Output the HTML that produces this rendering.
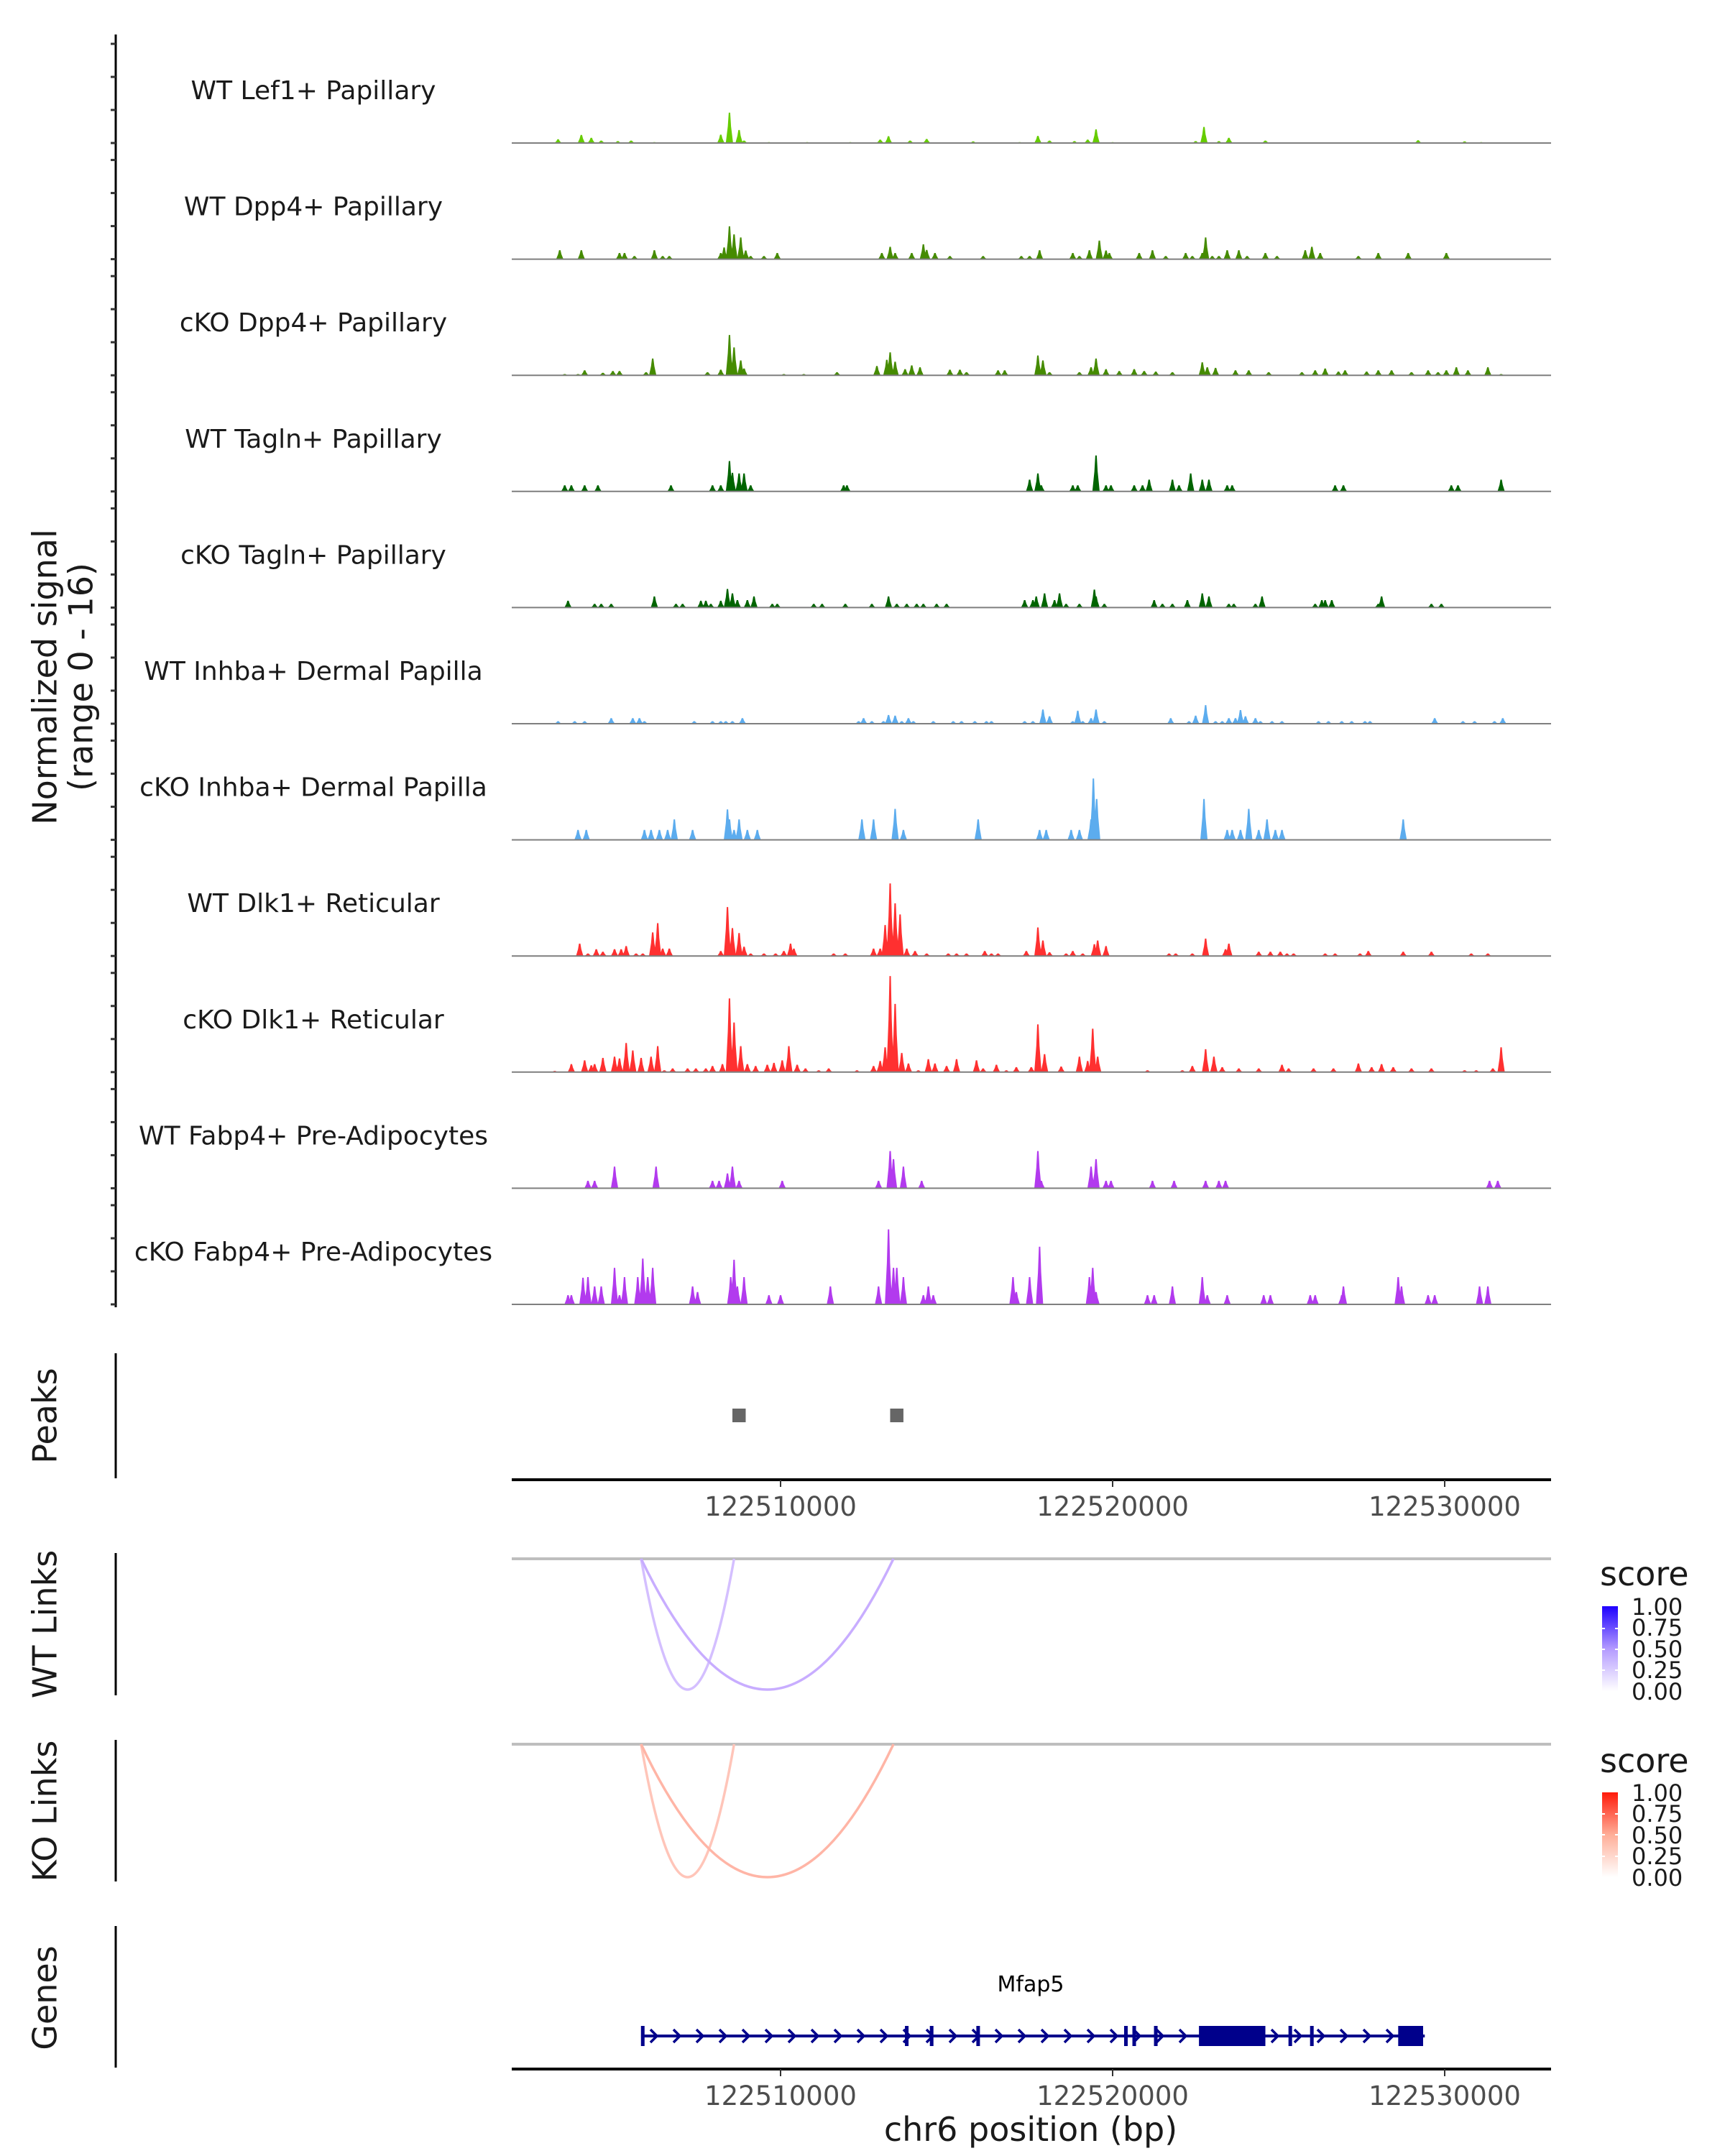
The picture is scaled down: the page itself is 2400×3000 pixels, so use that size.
<!DOCTYPE html>
<html><head><meta charset="utf-8">
<style>
html,body{margin:0;padding:0;background:#fff;}
svg{display:block;font-family:"DejaVu Sans","Liberation Sans",sans-serif;}
</style></head>
<body>
<svg id="chart" xmlns="http://www.w3.org/2000/svg" width="2400" height="3000" viewBox="0 0 2400 3000">
<rect x="0" y="0" width="2400" height="3000" fill="#ffffff"/>
<g id="tracks"></g>
<g id="leftaxis"></g>
<text transform="translate(66,942) rotate(-90)" text-anchor="middle" dominant-baseline="middle" font-size="46" fill="#1a1a1a">Normalized signal</text>
<text transform="translate(116,942) rotate(-90)" text-anchor="middle" dominant-baseline="middle" font-size="46" fill="#1a1a1a">(range 0 - 16)</text>

<g>
  <line x1="161" y1="1883" x2="161" y2="2057" stroke="#000" stroke-width="3"/>
  <text transform="translate(66,1970) rotate(-90)" text-anchor="middle" dominant-baseline="middle" font-size="46" fill="#1a1a1a">Peaks</text>
  <g id="peaks"></g>
</g>
<g id="xaxis1"></g>

<g>
  <line x1="161" y1="2161" x2="161" y2="2359" stroke="#000" stroke-width="3"/>
  <text transform="translate(66,2260) rotate(-90)" text-anchor="middle" dominant-baseline="middle" font-size="46" fill="#1a1a1a">WT Links</text>
  <line x1="712" y1="2169" x2="2158" y2="2169" stroke="#bebebe" stroke-width="4"/>
  <g id="wtlinks"></g>
</g>
<g>
  <line x1="161" y1="2421" x2="161" y2="2618" stroke="#000" stroke-width="3"/>
  <text transform="translate(66,2520) rotate(-90)" text-anchor="middle" dominant-baseline="middle" font-size="46" fill="#1a1a1a">KO Links</text>
  <line x1="712" y1="2427" x2="2158" y2="2427" stroke="#bebebe" stroke-width="4"/>
  <g id="kolinks"></g>
</g>

<defs>
  <linearGradient id="gradBlue" x1="0" y1="1" x2="0" y2="0">
    <stop offset="0" stop-color="#ffffff"/><stop offset="0.5" stop-color="#b39aff"/><stop offset="1" stop-color="#1e00ff"/>
  </linearGradient>
  <linearGradient id="gradRed" x1="0" y1="1" x2="0" y2="0">
    <stop offset="0" stop-color="#ffffff"/><stop offset="0.5" stop-color="#ffae98"/><stop offset="1" stop-color="#ff1a0a"/>
  </linearGradient>
</defs>
<g>
  <text x="2226" y="2206" font-size="46" fill="#1a1a1a">score</text>
  <rect x="2229" y="2235" width="22" height="118" fill="url(#gradBlue)"/>
  <g font-size="32" fill="#1a1a1a">
    <text x="2270" y="2247">1.00</text><text x="2270" y="2276">0.75</text><text x="2270" y="2306">0.50</text><text x="2270" y="2335">0.25</text><text x="2270" y="2365">0.00</text>
  </g>
  <g stroke="#fff" stroke-width="2"><line x1="2229" y1="2266" x2="2233" y2="2266"/><line x1="2247" y1="2266" x2="2251" y2="2266"/><line x1="2229" y1="2295" x2="2233" y2="2295"/><line x1="2247" y1="2295" x2="2251" y2="2295"/><line x1="2229" y1="2324" x2="2233" y2="2324"/><line x1="2247" y1="2324" x2="2251" y2="2324"/></g>
</g>
<g>
  <text x="2226" y="2466" font-size="46" fill="#1a1a1a">score</text>
  <rect x="2229" y="2494" width="22" height="118" fill="url(#gradRed)"/>
  <g font-size="32" fill="#1a1a1a">
    <text x="2270" y="2506">1.00</text><text x="2270" y="2535">0.75</text><text x="2270" y="2565">0.50</text><text x="2270" y="2594">0.25</text><text x="2270" y="2624">0.00</text>
  </g>
  <g stroke="#fff" stroke-width="2"><line x1="2229" y1="2524" x2="2233" y2="2524"/><line x1="2247" y1="2524" x2="2251" y2="2524"/><line x1="2229" y1="2553" x2="2233" y2="2553"/><line x1="2247" y1="2553" x2="2251" y2="2553"/><line x1="2229" y1="2583" x2="2233" y2="2583"/><line x1="2247" y1="2583" x2="2251" y2="2583"/></g>
</g>

<g>
  <line x1="161" y1="2680" x2="161" y2="2877" stroke="#000" stroke-width="3"/>
  <text transform="translate(66,2780) rotate(-90)" text-anchor="middle" dominant-baseline="middle" font-size="46" fill="#1a1a1a">Genes</text>
  <g id="gene"></g>
</g>
<g id="xaxis2"></g>
<text x="1434" y="2979" text-anchor="middle" font-size="46" fill="#1a1a1a">chr6 position (bp)</text>
</svg>

<script>
// ---- data (positions in kb offset from chr6:122,500,000; values in normalized signal 0-16) ----
const trackNames = ["WT Lef1+ Papillary","WT Dpp4+ Papillary","cKO Dpp4+ Papillary","WT Tagln+ Papillary","cKO Tagln+ Papillary","WT Inhba+ Dermal Papilla","cKO Inhba+ Dermal Papilla","WT Dlk1+ Reticular","cKO Dlk1+ Reticular","WT Fabp4+ Pre-Adipocytes","cKO Fabp4+ Pre-Adipocytes"];
const trackColors = ["#66cc00","#458b00","#458b00","#006400","#006400","#5cacee","#5cacee","#ff3030","#ff3030","#b23aee","#b23aee"];
const wtLef1 = [[3.3,0.6],[4.0,1.3],[4.3,0.85],[4.6,0.4],[5.1,0.3],[5.5,0.4],[6.2,0.15],[7.8,0.12],[8.2,1.35],[8.46,4.9],[8.75,2.1],[8.9,0.4],[9.65,0.15],[10.8,0.15],[12.1,0.15],[13.0,0.55],[13.25,1.1],[13.9,0.4],[14.4,0.65],[15.8,0.27],[17.2,0.15],[17.75,1.15],[18.1,0.4],[18.85,0.3],[19.25,0.55],[19.5,2.2],[20.0,0.15],[22.5,0.3],[22.75,2.6],[23.2,0.3],[23.5,0.85],[24.6,0.4],[25.9,0.12],[29.2,0.45],[30.6,0.27],[31.1,0.15]];
const wtDpp4 = [[3.35,1.45],[4.0,1.45],[5.15,1.0],[5.3,1.0],[5.6,0.5],[6.2,1.45],[6.45,0.5],[6.65,0.5],[8.2,1.0],[8.3,1.9],[8.46,5.3],[8.6,4.0],[8.8,3.5],[8.95,1.4],[9.1,0.5],[9.5,0.5],[9.9,1.0],[13.05,1.0],[13.3,2.0],[13.45,1.0],[13.95,1.0],[14.3,2.4],[14.4,1.5],[14.65,1.0],[15.1,0.5],[16.1,0.5],[17.25,0.5],[17.5,0.5],[17.8,1.45],[18.8,1.0],[19.0,0.5],[19.3,1.45],[19.6,3.0],[19.8,1.4],[19.9,1.0],[20.8,1.0],[21.2,1.45],[21.6,0.5],[22.2,1.0],[22.4,0.5],[22.7,1.0],[22.8,3.5],[23.0,0.5],[23.2,0.5],[23.45,1.45],[23.8,1.45],[24.05,0.5],[24.6,1.0],[24.95,0.5],[25.8,1.45],[26.0,2.0],[26.25,1.0],[27.4,0.5],[28.0,1.0],[28.9,1.0],[30.05,1.0]];
const koDpp4 = [[3.5,0.2],[3.9,0.2],[4.1,0.8],[4.65,0.4],[4.95,0.7],[5.15,0.7],[5.95,0.5],[6.15,2.7],[7.8,0.5],[8.2,0.9],[8.46,6.5],[8.6,4.5],[8.8,2.4],[8.9,1.1],[10.1,0.2],[10.7,0.2],[11.7,0.5],[12.9,1.5],[13.2,2.5],[13.3,3.7],[13.45,2.2],[13.75,1.0],[13.95,1.6],[14.2,1.3],[15.1,0.9],[15.4,0.9],[15.6,0.5],[16.55,0.8],[16.75,0.8],[17.75,3.2],[17.9,2.4],[18.1,0.5],[19.0,0.5],[19.35,1.3],[19.5,2.7],[19.8,1.0],[20.2,0.7],[20.65,1.0],[20.95,0.7],[21.3,0.6],[21.8,0.5],[22.7,2.1],[22.85,1.3],[23.1,1.2],[23.7,0.8],[24.1,0.8],[24.7,0.5],[25.7,0.5],[26.1,0.8],[26.4,1.1],[26.8,0.6],[27.0,0.8],[27.65,0.6],[28.0,0.8],[28.4,0.8],[29.0,0.5],[29.5,0.8],[29.8,0.5],[30.05,0.8],[30.35,1.3],[30.7,0.8],[31.3,1.3],[31.7,0.2]];
const wtTagln = [[3.5,1.0],[3.7,1.0],[4.1,1.0],[4.5,1.0],[6.7,1.0],[7.95,1.0],[8.2,1.0],[8.46,4.9],[8.55,3.0],[8.75,2.9],[8.9,2.9],[9.1,1.0],[11.9,1.0],[12.0,1.0],[17.5,1.9],[17.75,2.9],[17.85,1.0],[18.8,1.0],[18.95,1.0],[19.5,5.8],[19.8,1.0],[19.95,1.0],[20.65,1.0],[20.9,1.0],[21.1,1.9],[21.8,1.9],[22.0,1.0],[22.35,2.9],[22.7,1.9],[22.9,1.9],[23.45,1.0],[23.6,1.0],[26.7,1.0],[26.95,1.0],[30.2,1.0],[30.4,1.0],[31.7,1.9]];
const koTagln = [[3.6,1.1],[4.4,0.6],[4.6,0.6],[4.9,0.6],[6.2,1.8],[6.85,0.6],[7.05,0.6],[7.6,1.1],[7.75,1.1],[7.9,0.6],[8.2,1.1],[8.4,3.0],[8.55,2.3],[8.7,1.2],[9.0,1.2],[9.2,1.8],[9.75,0.6],[9.9,0.6],[11.0,0.6],[11.25,0.6],[11.95,0.6],[12.75,0.6],[13.25,1.8],[13.5,0.6],[13.8,0.6],[14.1,0.6],[14.3,0.6],[14.7,0.6],[15.0,0.6],[17.35,1.2],[17.6,1.2],[17.7,1.8],[17.95,2.3],[18.25,1.2],[18.4,2.3],[18.6,0.6],[19.0,0.6],[19.45,2.9],[19.5,1.8],[19.75,0.6],[21.25,1.2],[21.5,0.6],[21.8,0.6],[22.25,1.2],[22.7,2.3],[22.9,1.8],[23.5,0.6],[23.65,0.6],[24.3,0.6],[24.5,1.8],[26.1,0.6],[26.3,1.2],[26.4,1.2],[26.6,1.2],[28.0,0.6],[28.1,1.8],[29.6,0.6],[29.9,0.6]];
const wtInhba = [[3.3,0.4],[3.8,0.4],[4.1,0.4],[4.9,0.9],[5.55,0.9],[5.75,0.9],[5.9,0.4],[7.4,0.4],[7.95,0.4],[8.2,0.4],[8.35,0.4],[8.55,0.4],[8.85,0.9],[12.35,0.4],[12.5,0.9],[12.75,0.4],[13.1,0.4],[13.25,1.4],[13.45,1.3],[13.65,0.4],[13.85,0.9],[14.0,0.4],[14.6,0.4],[15.2,0.4],[15.45,0.4],[15.85,0.4],[16.2,0.4],[16.35,0.4],[17.35,0.4],[17.6,0.4],[17.9,2.3],[18.1,1.2],[18.8,0.4],[18.95,2.1],[19.1,0.4],[19.35,0.9],[19.5,2.3],[19.75,0.4],[21.75,0.9],[22.3,0.4],[22.5,1.3],[22.8,3.0],[23.1,0.4],[23.3,0.4],[23.5,0.9],[23.7,0.9],[23.85,2.2],[24.0,1.2],[24.3,0.9],[24.45,0.4],[24.8,0.4],[25.1,0.4],[26.2,0.4],[26.5,0.4],[26.9,0.4],[27.2,0.4],[27.6,0.4],[27.75,0.4],[29.7,0.9],[30.55,0.4],[30.9,0.4],[31.5,0.4],[31.75,0.9]];
const koInhba = [[3.9,1.6],[4.15,1.6],[5.9,1.6],[6.1,1.6],[6.35,1.6],[6.6,1.6],[6.8,3.3],[7.35,1.6],[8.4,4.9],[8.46,3.3],[8.6,1.6],[8.75,3.3],[9.0,1.6],[9.3,1.6],[12.45,3.3],[12.8,3.3],[13.45,5.0],[13.7,1.6],[15.95,3.3],[17.8,1.6],[18.0,1.6],[18.75,1.6],[19.0,1.6],[19.35,3.3],[19.42,9.9],[19.52,6.6],[22.75,6.6],[23.45,1.6],[23.6,1.6],[23.85,1.6],[24.1,5.0],[24.4,1.6],[24.65,3.3],[24.9,1.6],[25.1,1.6],[28.75,3.3]];
const wtDlk1 = [[3.95,2.0],[4.2,0.4],[4.45,1.1],[4.65,0.7],[5.0,1.1],[5.2,1.1],[5.35,1.6],[5.65,0.4],[5.85,0.4],[6.15,3.8],[6.3,5.3],[6.45,1.2],[6.65,1.2],[8.2,0.8],[8.4,7.9],[8.55,4.5],[8.75,3.7],[8.9,1.5],[9.1,0.4],[9.5,0.4],[9.85,0.4],[10.1,0.8],[10.3,2.0],[10.4,1.2],[11.6,0.4],[11.95,0.4],[12.8,1.2],[13.0,1.2],[13.15,5.0],[13.3,11.7],[13.45,8.5],[13.6,6.7],[13.8,1.2],[14.05,0.8],[14.4,0.4],[15.05,0.4],[15.3,0.4],[15.6,0.4],[16.15,0.8],[16.35,0.4],[16.55,0.4],[17.4,0.8],[17.75,4.6],[17.9,2.5],[18.1,0.6],[18.6,0.4],[18.8,0.8],[19.1,0.4],[19.45,1.9],[19.55,2.5],[19.8,1.6],[21.7,0.4],[21.9,0.4],[22.4,0.4],[22.8,2.8],[23.4,1.1],[23.5,2.0],[24.4,0.7],[24.75,0.7],[25.05,0.7],[25.25,0.4],[25.45,0.4],[26.4,0.4],[26.7,0.4],[27.45,0.4],[27.7,0.8],[28.75,0.7],[29.6,0.7],[30.8,0.4],[31.3,0.4]];
const koDlk1 = [[3.2,0.2],[3.7,1.3],[4.1,1.9],[4.3,1.1],[4.4,1.3],[4.65,2.3],[5.0,2.5],[5.15,2.2],[5.35,4.7],[5.55,3.5],[5.8,2.3],[6.1,2.5],[6.3,4.2],[6.5,0.3],[6.75,0.6],[7.2,0.6],[7.45,0.6],[7.75,0.6],[7.95,1.0],[8.25,1.3],[8.46,11.9],[8.6,8.0],[8.8,4.2],[9.0,1.3],[9.25,1.0],[9.6,1.2],[9.8,1.5],[10.05,1.9],[10.25,4.2],[10.5,1.2],[10.75,0.6],[11.15,0.3],[11.45,0.6],[12.3,0.3],[12.8,1.0],[13.0,1.8],[13.15,4.0],[13.3,15.5],[13.45,11.0],[13.65,3.1],[13.85,1.4],[14.15,0.3],[14.45,2.1],[14.65,1.4],[15.0,1.0],[15.3,2.1],[15.9,1.9],[16.1,0.6],[16.5,1.2],[16.8,0.3],[17.1,0.8],[17.55,0.8],[17.75,7.7],[17.95,2.9],[18.45,0.9],[19.0,2.5],[19.25,1.8],[19.4,7.0],[19.55,2.5],[21.05,0.3],[22.1,0.3],[22.4,1.0],[22.8,3.7],[23.05,2.5],[23.3,0.8],[23.8,0.6],[24.4,0.6],[25.1,1.2],[25.3,0.6],[26.05,0.6],[26.65,0.6],[27.4,1.4],[27.8,0.8],[28.1,1.3],[28.45,0.8],[29.0,0.6],[29.6,0.6],[30.6,0.3],[30.95,0.3],[31.45,0.6],[31.7,4.0]];
const wtFabp4 = [[4.2,1.2],[4.4,1.2],[5.0,3.5],[6.25,3.5],[7.95,1.2],[8.15,1.2],[8.4,2.4],[8.55,3.5],[8.75,1.2],[10.05,1.2],[12.95,1.2],[13.3,6.0],[13.4,4.7],[13.7,3.5],[14.25,1.2],[17.75,6.0],[17.85,1.2],[19.35,3.5],[19.5,4.7],[19.8,1.2],[19.95,1.2],[21.2,1.2],[21.85,1.2],[22.8,1.2],[23.2,1.2],[23.4,1.2],[31.35,1.2],[31.6,1.2]];
const koFabp4 = [[3.6,1.5],[3.7,1.5],[4.05,4.3],[4.2,4.4],[4.4,2.9],[4.6,2.9],[5.0,5.9],[5.15,1.5],[5.3,4.4],[5.7,4.4],[5.85,7.4],[6.0,4.4],[6.15,5.9],[7.35,2.9],[7.5,2.0],[8.5,4.4],[8.6,7.2],[8.7,2.9],[8.9,4.4],[9.65,1.5],[10.0,1.5],[11.5,2.9],[12.95,2.9],[13.25,12.1],[13.4,5.9],[13.5,5.9],[13.7,4.4],[14.3,1.5],[14.45,2.9],[14.6,1.5],[17.0,4.4],[17.1,2.0],[17.5,4.4],[17.8,9.3],[19.3,4.4],[19.4,5.9],[19.5,2.0],[21.05,1.5],[21.25,1.5],[21.8,2.9],[22.7,4.4],[22.85,1.5],[23.45,1.5],[24.55,1.5],[24.75,1.5],[25.95,1.5],[26.1,1.5],[26.9,1.5],[26.95,2.9],[28.6,4.4],[28.7,2.9],[29.5,1.5],[29.7,1.5],[31.05,2.9],[31.3,2.9]];
const trackData = [wtLef1, wtDpp4, koDpp4, wtTagln, koTagln, wtInhba, koInhba, wtDlk1, koDlk1, wtFabp4, koFabp4];
const peakStartKb = [8.55, 13.3];
const peakEndKb = [8.95, 13.7];
const linkStartKb = [5.8, 5.8];
const linkEndKb = [8.6, 13.4];
const wtLinkScore = [0.30, 0.38];
const koLinkScore = [0.30, 0.38];
const geneName = "Mfap5";
const geneStartKb = 5.8;
const geneEndKb = 29.4;
const exonKb = [5.85, 13.8, 14.55, 15.95, 20.4, 20.65, 21.3, 25.35, 26.0];
const cdsStartKb = [22.6, 28.6];
const cdsEndKb = [24.6, 29.35];
const tickBp = [122510000, 122520000, 122530000];
const yRangeMax = 16;

// ---- scales ----
const NS = "http://www.w3.org/2000/svg";
const X0 = 1086, PX_PER_KB = 46.2;
function xS(kb){ return X0 + (kb - 10) * PX_PER_KB; }
function xBp(bp){ return xS((bp - 122500000) / 1000); }
const TRACK0 = 199, TRACK_STEP = 161.6, PANEL_H = 138;
function baseY(i){ return TRACK0 + i * TRACK_STEP; }
function yS(i, v){ return baseY(i) - Math.min(v, yRangeMax) / yRangeMax * PANEL_H; }
function mk(tag, attrs, parent){ const e = document.createElementNS(NS, tag); for (const k in attrs) e.setAttribute(k, attrs[k]); parent.appendChild(e); return e; }

// ---- signal tracks ----
const gT = document.getElementById('tracks');
trackNames.forEach(function(name, i){
  const g = mk('g', {}, gT);
  
  
  const lbl = mk('text', {x: 436, y: baseY(i) - 71, 'text-anchor': 'middle', 'dominant-baseline': 'middle', 'font-size': 36, fill: '#1a1a1a'}, g);
  lbl.textContent = name;
  
  
  const b = baseY(i);
  let d = '';
  trackData[i].forEach(function(p){
    const x = xS(p[0]), y = yS(i, p[1]), w = 0.11 * PX_PER_KB;
    d += 'M' + (x - w).toFixed(1) + ',' + b + 'L' + (x - w * 0.45).toFixed(1) + ',' + (b - (b - y) * 0.55).toFixed(1) + 'L' + (x - 1).toFixed(1) + ',' + y.toFixed(1) + 'L' + (x + 1).toFixed(1) + ',' + y.toFixed(1) + 'L' + (x + w * 0.45).toFixed(1) + ',' + (b - (b - y) * 0.55).toFixed(1) + 'L' + (x + w).toFixed(1) + ',' + b + 'Z';
  });
  const area = mk('path', {d: d, fill: trackColors[i]}, g);
  
  
  const bl = mk('line', {x1: 712, x2: 2158, y1: b, y2: b, stroke: '#7f7f7f', 'stroke-width': 2}, g);
  
  
});

// ---- left axis with minor ticks ----
const gA = document.getElementById('leftaxis');
mk('line', {x1: 161, x2: 161, y1: 48, y2: 1819, stroke: '#000', 'stroke-width': 3}, gA);
for (let i = 0; i < trackNames.length; i++) {
  for (let k = 0; k < 4; k++) {
    const y = baseY(i) - PANEL_H + k * PANEL_H / 3;
    mk('line', {x1: 154, x2: 161, y1: y, y2: y, stroke: '#333', 'stroke-width': 3}, gA);
  }
}

// ---- peaks ----
const gP = document.getElementById('peaks');
peakStartKb.forEach(function(s, i){
  const r = mk('rect', {x: xS(s), y: 1960, width: xS(peakEndKb[i]) - xS(s), height: 19, fill: '#666666'}, gP);
  
  
});

// ---- x axes ----
function xAxis(id, y){
  const g = document.getElementById(id);
  mk('line', {x1: 712, x2: 2158, y1: y, y2: y, stroke: '#000', 'stroke-width': 4}, g);
  tickBp.forEach(function(t){
    const x = xBp(t);
    mk('line', {x1: x, x2: x, y1: y, y2: y + 10, stroke: '#333', 'stroke-width': 2}, g);
    const tx = mk('text', {x: x, y: y + 50, 'text-anchor': 'middle', 'font-size': 37, fill: '#4d4d4d'}, g);
    tx.textContent = String(t);
    
    
  });
}
xAxis('xaxis1', 2059);
xAxis('xaxis2', 2879);

// ---- links ----
function mixColor(c, s){ const r = Math.round(255 + (c[0] - 255) * s), g = Math.round(255 + (c[1] - 255) * s), b = Math.round(255 + (c[2] - 255) * s); return 'rgb(' + r + ',' + g + ',' + b + ')'; }
function drawLinks(id, y0, depth, scores, base){
  const g = document.getElementById(id);
  linkStartKb.forEach(function(s, i){
    const x1 = xS(s), x2 = xS(linkEndKb[i]);
    const xm = (x1 + x2) / 2;
    const p = mk('path', {d: 'M' + x1 + ',' + y0 + ' Q' + xm + ',' + (y0 + 2 * depth) + ' ' + x2 + ',' + y0, fill: 'none', stroke: mixColor(base, scores[i]), 'stroke-width': 3.5}, g);
    
    
  });
}
drawLinks('wtlinks', 2169, 182, wtLinkScore, [110, 40, 255]);
drawLinks('kolinks', 2427, 185, koLinkScore, [255, 60, 20]);

// ---- gene ----
const gG = document.getElementById('gene');
const gy = 2833, navy = '#00008b';
const gl = mk('line', {x1: xS(geneStartKb), x2: xS(geneEndKb), y1: gy, y2: gy, stroke: navy, 'stroke-width': 4}, gG);


for (let x = xS(geneStartKb) + 18; x < xS(geneEndKb) - 10; x += 32) {
  mk('path', {d: 'M' + (x - 5) + ',' + (gy - 9) + ' L' + (x + 4) + ',' + gy + ' L' + (x - 5) + ',' + (gy + 9), fill: 'none', stroke: navy, 'stroke-width': 3.5}, gG);
}
exonKb.forEach(function(e){
  const r = mk('rect', {x: xS(e) - 2.5, y: gy - 14, width: 5, height: 28, fill: navy}, gG);
  
  
});
cdsStartKb.forEach(function(s, i){
  const r = mk('rect', {x: xS(s), y: gy - 14, width: xS(cdsEndKb[i]) - xS(s), height: 28, fill: navy}, gG);
  
  
});
const gn = mk('text', {x: 1434, y: 2771, 'text-anchor': 'middle', 'font-size': 30, fill: '#000'}, gG);
gn.textContent = geneName;


</script>
</body></html>
